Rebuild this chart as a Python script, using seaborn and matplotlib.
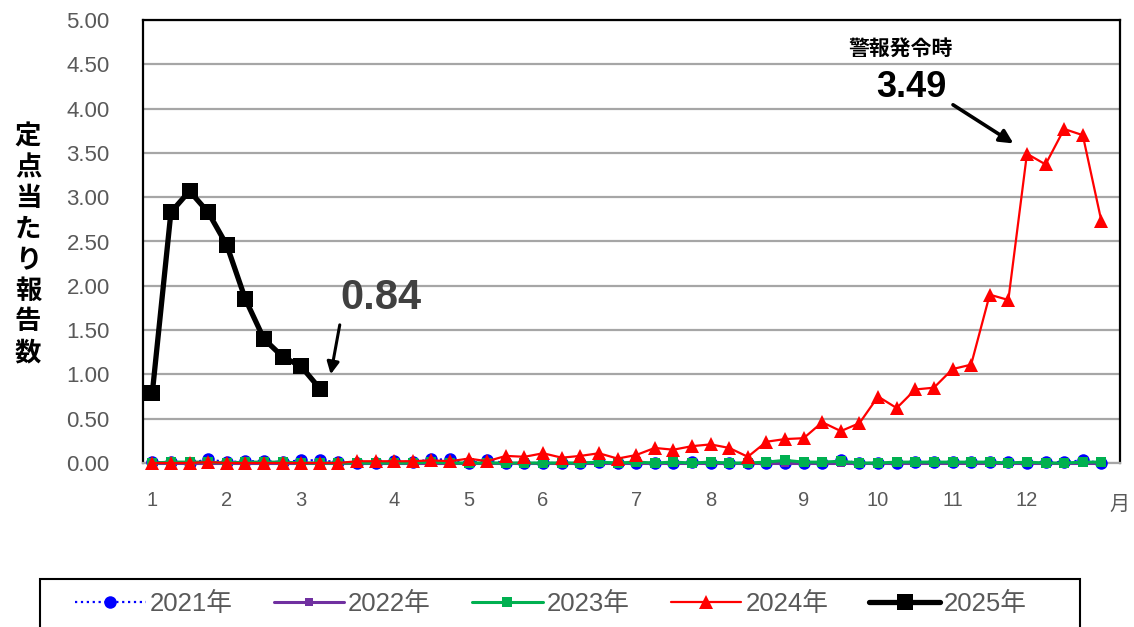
import matplotlib
matplotlib.use("Agg")
import matplotlib.pyplot as plt
from matplotlib.patches import Rectangle
import seaborn as sns
import numpy as np
import pandas as pd

# ---------------- data ----------------
weeks = list(range(52))
month_ticks = [0, 4, 8, 13, 17, 21, 26, 30, 35, 39, 43, 47, 52]
month_labels = ["1", "2", "3", "4", "5", "6", "7", "8", "9", "10", "11", "12", "月"]
y_ticks = [0, 0.5, 1.0, 1.5, 2.0, 2.5, 3.0, 3.5, 4.0, 4.5, 5.0]

y2021 = [0.01, 0.01, 0.00, 0.04, 0.01, 0.02, 0.02, 0.01, 0.03, 0.03, 0.01, 0.00, 0.00,
         0.02, 0.01, 0.04, 0.04, 0.00, 0.03, 0.00, 0.00, 0.00, 0.00, 0.00, 0.01, 0.00,
         0.00, 0.00, 0.00, 0.01, 0.00, 0.00, 0.00, 0.00, 0.00, 0.00, 0.00, 0.03, 0.00,
         0.00, 0.00, 0.01, 0.01, 0.01, 0.01, 0.01, 0.01, 0.00, 0.01, 0.01, 0.03, 0.00]
y2022 = [0.00] * 52
y2023 = [0.00, 0.01, 0.01, 0.01, 0.00, 0.01, 0.01, 0.01, 0.00, 0.00, 0.00, 0.00, 0.00,
         0.00, 0.00, 0.01, 0.00, 0.00, 0.00, 0.00, 0.00, 0.00, 0.00, 0.00, 0.01, 0.00,
         0.01, 0.00, 0.01, 0.00, 0.01, 0.00, 0.00, 0.01, 0.03, 0.01, 0.01, 0.02, 0.00,
         0.00, 0.01, 0.01, 0.01, 0.01, 0.01, 0.01, 0.00, 0.01, 0.00, 0.00, 0.01, 0.01]
y2024 = [0.00, 0.00, 0.00, 0.01, 0.00, 0.00, 0.00, 0.00, 0.00, 0.00, 0.00,
         0.02, 0.02, 0.02, 0.02, 0.03, 0.02,
         0.05, 0.02, 0.08, 0.07, 0.11, 0.06, 0.08, 0.11, 0.05,
         0.09, 0.17, 0.15, 0.19, 0.21, 0.17, 0.07, 0.24, 0.27, 0.28, 0.46, 0.36, 0.45,
         0.75, 0.62, 0.83, 0.85, 1.06, 1.11, 1.90, 1.84, 3.49, 3.37, 3.77, 3.70, 2.73]
y2025 = [0.79, 2.83, 3.07, 2.83, 2.46, 1.85, 1.40, 1.20, 1.09, 0.84]

# ---------------- style ----------------
sns.set_theme(style="white")
plt.rcParams["font.family"] = ["Liberation Sans", "Noto Sans CJK JP", "DejaVu Sans"]

fig = plt.figure(figsize=(11.34, 6.27), dpi=100)
ax = fig.add_axes([143 / 1134, 1 - 463 / 627, (1120 - 143) / 1134, (463 - 20) / 627])

series = [
    ("2021年", y2021, dict(color="#0000FF", linestyle=":", linewidth=1.6, marker="o",
                           markersize=9, markeredgewidth=0)),
    ("2022年", y2022, dict(color="#7030A0", linestyle="-", linewidth=2.2, marker="s",
                           markersize=6, markeredgewidth=0)),
    ("2023年", y2023, dict(color="#00B050", linestyle="-", linewidth=2.2, marker="s",
                           markersize=7, markeredgewidth=0)),
    ("2024年", y2024, dict(color="#FF0000", linestyle="-", linewidth=1.6, marker="^",
                           markersize=10, markeredgewidth=0)),
    ("2025年", y2025, dict(color="#000000", linestyle="-", linewidth=3.8, marker="s",
                           markersize=11, markeredgewidth=0)),
]
for name, vals, kw in series:
    df = pd.DataFrame({"week": weeks[:len(vals)], "value": vals})
    sns.lineplot(data=df, x="week", y="value", ax=ax, label=name, zorder=3,
                 clip_on=False, **kw)

ax.set_xlim(-0.5, 52.0)
ax.set_ylim(0, 5.0)
ax.set_yticks(y_ticks)
ax.set_yticklabels([f"{v:.2f}" for v in y_ticks])
ax.set_xticks(month_ticks)
ax.set_xticklabels(month_labels)
ax.set_xlabel("")
ax.set_ylabel("")
ax.grid(axis="y", color="#A6A6A6", linewidth=1.6)
ax.grid(axis="x", visible=False)
ax.set_axisbelow(True)
ax.tick_params(axis="y", length=0, pad=24, labelsize=16, labelcolor="#595959")
ax.tick_params(axis="x", length=0, pad=20, labelsize=14.5, labelcolor="#595959")
for s in ["left", "top", "right"]:
    ax.spines[s].set_color("black")
    ax.spines[s].set_linewidth(1.6)
ax.spines["bottom"].set_color("#A6A6A6")
ax.spines["bottom"].set_linewidth(1.6)

for lbl in ax.get_xticklabels():
    if lbl.get_text() == "月":
        lbl.set_y(-0.01)

# y label stacked vertically
fig.text(28 / 1134, 1 - 245 / 627, "\n".join("定点当たり報告数"), ha="center", va="center",
         fontsize=19, fontweight="bold", color="black", linespacing=1.18,
         family=["Noto Sans CJK JP"])

# annotations
ax.annotate("", xy=(9.56, 0.97), xytext=(10.1, 1.59),
            arrowprops=dict(arrowstyle="-|>", color="black", lw=2.2, mutation_scale=18))
ax.text(12.3, 1.86, "0.84", ha="center", va="center", fontsize=30, fontweight="bold",
        color="#404040")
ax.annotate("", xy=(46.4, 3.59), xytext=(42.9, 4.06),
            arrowprops=dict(arrowstyle="-|>", color="black", lw=2.6, mutation_scale=20))
ax.text(40.8, 4.24, "3.49", ha="center", va="center", fontsize=26, fontweight="bold",
        color="black")
ax.text(40.2, 4.68, "警報発令時", ha="center", va="center", fontsize=15, fontweight="bold",
        color="black", family=["Noto Sans CJK JP"])

# legend (frame drawn separately, extends past bottom edge as in reference)
ax.get_legend().remove()
handles, labels = ax.get_legend_handles_labels()
frame = Rectangle((40 / 1134, -0.05), 1040 / 1134, 0.05 + (627 - 579) / 627,
                  transform=fig.transFigure, fill=False, edgecolor="black", linewidth=1.5)
fig.patches.append(frame)
leg = fig.legend(handles, labels, loc="center left",
                 bbox_to_anchor=(75 / 1134, 1 - 604 / 627),
                 ncol=5, fontsize=18.5, handlelength=2.75, handletextpad=0.15,
                 columnspacing=1.6, borderpad=0, borderaxespad=0, frameon=False,
                 labelcolor="#595959")

fig.savefig("out.png", dpi=100)
